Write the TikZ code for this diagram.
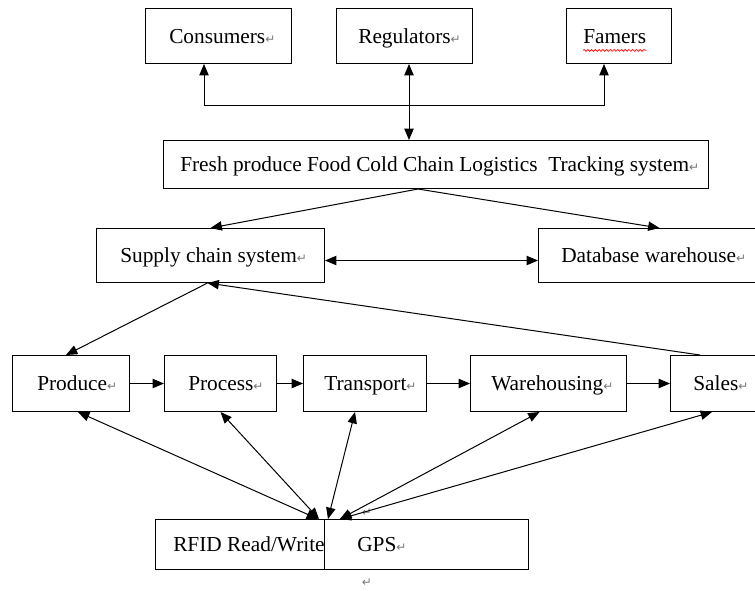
\documentclass[tikz,border=0pt]{standalone}
\usepackage{fontspec}
\setmainfont{Liberation Serif}
\newfontfamily\symfont{DejaVu Sans}
\usetikzlibrary{arrows.meta,decorations.pathmorphing}
\definecolor{retgray}{RGB}{120,120,120}
\newcommand\pxu{0.75pt}
\newcommand\rmk{{\symfont\fontsize{9}{9}\selectfont\textcolor{retgray}{↵}}}
\tikzset{
  box/.style={draw=black, line width=0.75pt, inner sep=0pt, anchor=north west},
  txt/.style={inner sep=0pt, anchor=mid west, yshift=-4*\pxu, font=\fontsize{16}{19}\selectfont},
  arr/.style={line width=0.75pt, -{Triangle[length=8.5pt,width=7pt]}},
  darr/.style={line width=0.75pt, {Triangle[length=8.5pt,width=7pt]}-{Triangle[length=8.5pt,width=7pt]}}
}
\begin{document}
\begin{tikzpicture}[x=0.75pt, y=-0.75pt]
\useasboundingbox (0,0) rectangle (755,590);
\fill[white] (0,0) rectangle (755,590);
\clip (0,0) rectangle (755,590);
% boxes
\node[box, minimum width=146*\pxu, minimum height=55*\pxu] (cons) at (145,8) {};
\node[box, minimum width=136*\pxu, minimum height=55*\pxu] (reg) at (336,8) {};
\node[box, minimum width=105*\pxu, minimum height=55*\pxu] (farm) at (566,8) {};
\node[box, minimum width=545*\pxu, minimum height=48*\pxu] (main) at (163,140) {};
\node[box, minimum width=228*\pxu, minimum height=54*\pxu] (sup) at (96,228) {};
\node[box, minimum width=242*\pxu, minimum height=54*\pxu] (db) at (538,228) {};
\node[box, minimum width=117*\pxu, minimum height=56*\pxu] (prod) at (12,355) {};
\node[box, minimum width=112*\pxu, minimum height=56*\pxu] (proc) at (164,355) {};
\node[box, minimum width=123*\pxu, minimum height=56*\pxu] (trans) at (303,355) {};
\node[box, minimum width=156*\pxu, minimum height=56*\pxu] (ware) at (470,355) {};
\node[box, minimum width=110*\pxu, minimum height=56*\pxu] (sales) at (670,355) {};
\node[box, minimum width=169*\pxu, minimum height=50*\pxu] (rfid) at (155,519) {};
\node[box, minimum width=204*\pxu, minimum height=50*\pxu] (gps) at (324,519) {};
% texts
\node[txt] (consT) at ([xshift=24*\pxu]cons.west) {Consumers\rmk};
\node[txt] (regT) at ([xshift=22*\pxu]reg.west) {Regulators\rmk};
\node[txt] (farmT) at ([xshift=17*\pxu]farm.west) {Famers};
\node[txt] (mainT) at ([xshift=17*\pxu]main.west) {Fresh produce Food Cold Chain Logistics~ Tracking system\rmk};
\node[txt] (supT) at ([xshift=24*\pxu]sup.west) {Supply chain system\rmk};
\node[txt] (dbT) at ([xshift=23*\pxu]db.west) {Database warehouse\rmk};
\node[txt] (prodT) at ([xshift=25*\pxu]prod.west) {Produce\rmk};
\node[txt] (procT) at ([xshift=24*\pxu]proc.west) {Process\rmk};
\node[txt] (transT) at ([xshift=21*\pxu]trans.west) {Transport\rmk};
\node[txt] (wareT) at ([xshift=21*\pxu]ware.west) {Warehousing\rmk};
\node[txt] (salesT) at ([xshift=23*\pxu]sales.west) {Sales\rmk};
\node[txt] (rfidT) at ([xshift=18*\pxu]rfid.west) {RFID Read/Write};
\node[txt] (gpsT) at ([xshift=33*\pxu]gps.west) {GPS\rmk};
\node[inner sep=0pt] (rm1) at (367,513) {\rmk};
\node[inner sep=0pt] (rm2) at (367,583) {\rmk};
% spell-check squiggle
\draw[red, line width=0.5pt, decorate, decoration={snake, amplitude=0.7pt, segment length=2.8pt}]
  ([yshift=-5.5pt]farmT.base west) -- ([yshift=-5.5pt]farmT.base east);
% top connectors
\coordinate (jl) at (204,105);
\coordinate (jr) at (604,105);
\coordinate (rx) at (409,105);
\draw[darr] (jl |- cons.south) -- (jl) -- (jr) -- (jr |- farm.south);
\draw[darr] (rx |- reg.south) -- (rx |- main.north);
% from main
\coordinate (apex) at ([xshift=-18*\pxu]main.south);
\draw[arr] (apex) -- (sup.north);
\draw[arr] (apex) -- (db.north);
\draw[darr] ([yshift=-5*\pxu]sup.east) -- ([yshift=-5*\pxu]db.west);
% supply chain loop
\draw[arr] ([xshift=-3*\pxu]sup.south) -- ([xshift=-5*\pxu]prod.north);
\draw[arr] ([xshift=30*\pxu]sales.north west) -- ([xshift=-3*\pxu]sup.south);
% row
\draw[arr] (prod.east) -- (proc.west);
\draw[arr] (proc.east) -- (trans.west);
\draw[arr] (trans.east) -- (ware.west);
\draw[arr] (ware.east) -- (sales.west);
% to RFID / GPS
\draw[darr] ([xshift=7*\pxu]prod.south) -- ([xshift=-7*\pxu]rfid.north east);
\draw[darr] (proc.south) -- ([xshift=-6*\pxu]rfid.north east);
\draw[darr] ([xshift=-10*\pxu]trans.south) -- ([xshift=4*\pxu]gps.north west);
\draw[darr] ([xshift=-9*\pxu]ware.south) -- ([xshift=16*\pxu]gps.north west);
\draw[darr] ([xshift=42*\pxu]sales.south west) -- ([xshift=16*\pxu]gps.north west);
\end{tikzpicture}
\end{document}
